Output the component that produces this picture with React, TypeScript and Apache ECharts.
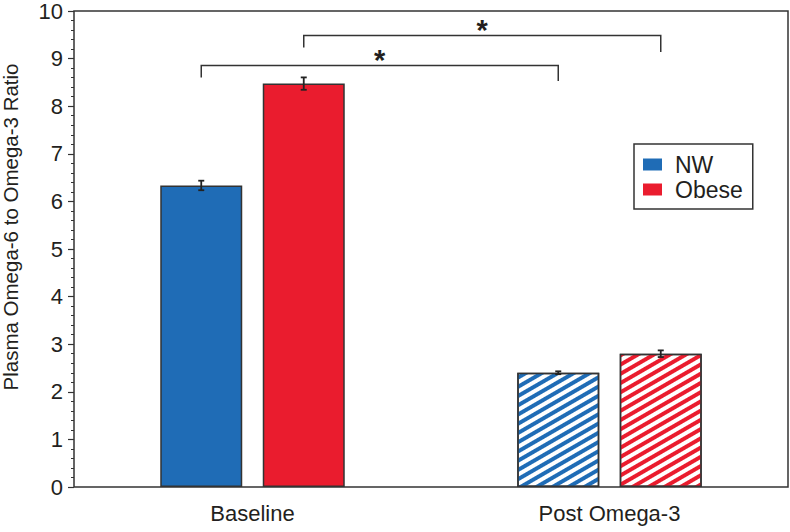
import React, { useEffect, useRef } from "react";
import * as echarts from "echarts";

const categories = ["Baseline", "Post Omega-3"];
const seriesNames = ["NW", "Obese"];
const nwMeans = [6.335, 2.4];
const obeseMeans = [8.475, 2.8];
const nwErrors = [0.1, 0.03];
const obeseErrors = [0.13, 0.07];
const seriesColors = ["#1f6cb6", "#ea1c2e"];
// significance brackets: [fromCategory, fromSeries, toCategory, toSeries, lineY, leftEndY, rightEndY]
const bracketLow = [0, 0, 1, 0, 8.857, 8.605, 8.532];
const bracketHigh = [0, 1, 1, 1, 9.486, 9.234, 9.14];
const bracketLabels = ["*", "*"];
const yMin = 0;
const yMax = 10;
const yInterval = 1;
const yTitle = "Plasma Omega-6 to Omega-3 Ratio";

const FONT = "'Liberation Sans', Arial, Helvetica, sans-serif";
const TEXT_COLOR = "#231f20";
const LINE_COLOR = "#333333";
const BAR_WIDTH = 82;
const BAR_GAP = 0.25;
const seriesOffset = (s: number) => (s === 0 ? -1 : 1) * (BAR_WIDTH * (1 + BAR_GAP)) / 2;

export default function App() {
  const ref = useRef<HTMLDivElement>(null);
  useEffect(() => {
    if (!ref.current) return;
    const chart = echarts.init(ref.current, null, { renderer: "svg" });

    const makeDecal = (color: string) => ({
      symbol: "rect",
      symbolSize: 1,
      dashArrayX: [1, 0],
      dashArrayY: [3.5, 3.5],
      rotation: -Math.PI / 6,
      color,
    });

    const meansBySeries = [nwMeans, obeseMeans];
    const errorsBySeries = [nwErrors, obeseErrors];

    const barSeries = seriesNames.map((name, s) => ({
      name,
      type: "bar",
      barWidth: BAR_WIDTH,
      barGap: `${BAR_GAP * 100}%`,
      itemStyle: { color: seriesColors[s], borderColor: LINE_COLOR, borderWidth: 1.5 },
      data: meansBySeries[s].map((v, i) =>
        i === 1
          ? { value: v, itemStyle: { color: "#ffffff", decal: makeDecal(seriesColors[s]) } }
          : { value: v }
      ),
      z: 2,
    }));

    const errorData: number[][] = [];
    seriesNames.forEach((_, s) => {
      categories.forEach((_, i) => {
        errorData.push([i, s, meansBySeries[s][i], errorsBySeries[s][i]]);
      });
    });

    const errorSeries = {
      type: "custom",
      name: "errors",
      encode: { x: 0, y: 2 },
      z: 5,
      silent: true,
      data: errorData,
      renderItem: (params: any, api: any) => {
        const cat = api.value(0);
        const s = api.value(1);
        const m = api.value(2);
        const e = api.value(3);
        const x = api.coord([cat, m])[0] + seriesOffset(s);
        const yTop = api.coord([cat, m + e])[1];
        const yBot = api.coord([cat, m - e])[1];
        const cap = 3;
        const st = { stroke: "#222", lineWidth: 1.8 };
        return {
          type: "group",
          children: [
            { type: "line", shape: { x1: x, y1: yTop, x2: x, y2: yBot }, style: st },
            { type: "line", shape: { x1: x - cap, y1: yTop, x2: x + cap, y2: yTop }, style: st },
            { type: "line", shape: { x1: x - cap, y1: yBot, x2: x + cap, y2: yBot }, style: st },
          ],
        };
      },
    };

    const bracketSeries = {
      type: "custom",
      name: "brackets",
      encode: { x: 0, y: 4 },
      z: 5,
      silent: true,
      data: [bracketLow, bracketHigh],
      renderItem: (params: any, api: any) => {
        const x1 = api.coord([api.value(0), 0])[0] + seriesOffset(api.value(1));
        const x2 = api.coord([api.value(2), 0])[0] + seriesOffset(api.value(3));
        const yl = api.coord([0, api.value(4)])[1];
        const yL = api.coord([0, api.value(5)])[1];
        const yR = api.coord([0, api.value(6)])[1];
        return {
          type: "group",
          children: [
            {
              type: "polyline",
              shape: { points: [[x1, yL], [x1, yl], [x2, yl], [x2, yR]] },
              style: { stroke: LINE_COLOR, lineWidth: 1.5, fill: "none" },
            },
            {
              type: "text",
              x: (x1 + x2) / 2,
              y: yl - 5,
              style: {
                text: bracketLabels[params.dataIndex],
                textAlign: "center",
                textVerticalAlign: "middle",
                font: `bold 29px ${FONT}`,
                fill: TEXT_COLOR,
              },
            },
          ],
        };
      },
    };

    chart.setOption({
      animation: false,
      backgroundColor: "#ffffff",
      grid: {
        left: 74,
        right: 2,
        top: 10,
        bottom: 45,
        show: true,
        borderColor: LINE_COLOR,
        borderWidth: 1.5,
        backgroundColor: "transparent",
      },
      legend: {
        data: seriesNames,
        orient: "vertical",
        left: 634,
        top: 144,
        icon: "rect",
        itemWidth: 19,
        itemHeight: 12,
        itemGap: 2,
        borderColor: LINE_COLOR,
        borderWidth: 1.5,
        padding: [9, 10, 8, 9],
        itemStyle: { borderWidth: 0 },
        textStyle: {
          fontSize: 23,
          fontFamily: FONT,
          color: TEXT_COLOR,
          lineHeight: 20,
          padding: [0, 0, 0, 8],
        },
        selectedMode: false,
      },
      xAxis: {
        type: "category",
        data: categories,
        axisLine: { show: false },
        axisTick: { show: false },
        axisLabel: { fontSize: 22, fontFamily: FONT, color: TEXT_COLOR, margin: 15 },
      },
      yAxis: {
        type: "value",
        min: yMin,
        max: yMax,
        interval: yInterval,
        axisLine: { show: false },
        axisTick: { show: true, length: 6, lineStyle: { color: LINE_COLOR, width: 1.2 } },
        minorTick: { show: true, splitNumber: 5, length: 3, lineStyle: { color: LINE_COLOR, width: 1 } },
        splitLine: { show: false },
        axisLabel: { fontSize: 22, fontFamily: FONT, color: TEXT_COLOR, margin: 11 },
      },
      graphic: [
        {
          type: "text",
          x: 10,
          y: 227,
          rotation: Math.PI / 2,
          style: {
            text: yTitle,
            textAlign: "center",
            textVerticalAlign: "middle",
            font: `20.5px ${FONT}`,
            fill: TEXT_COLOR,
          },
        },
      ],
      series: [...barSeries, errorSeries, bracketSeries],
    });
    return () => chart.dispose();
  }, []);
  return (
    <div
      ref={ref}
      style={{ position: "fixed", left: 0, top: 0, width: 790, height: 532, background: "#fff" }}
    />
  );
}
